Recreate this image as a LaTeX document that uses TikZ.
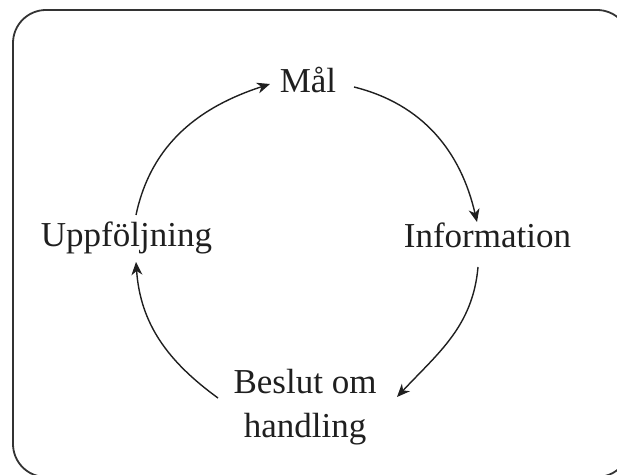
\documentclass[tikz,border=0pt]{standalone}
\usepackage{fontspec}
\setmainfont{Liberation Serif}
\usetikzlibrary{arrows.meta,calc}
\begin{document}
\begin{tikzpicture}[x=1pt,y=1pt,
  lbl/.style={inner sep=0pt, anchor=base, align=center, text=black!88,
    font=\fontsize{35}{44}\selectfont},
  arr/.style={line width=1.4pt, draw=black!88,
    -{Stealth[length=13pt,width=11pt,inset=4pt]}},
  frame/.style={line width=1.8pt, draw=black!80, rounded corners=33pt}]
\useasboundingbox (0,0) rectangle (617,474);
\begin{scope}
\clip (0,0) rectangle (617,474);
\draw[frame] (13,-3) rectangle (630,464);
\end{scope}
\node[lbl] (m) at (308,381) {Mål};
\node[lbl] (i) at (487.5,226) {Information};
\node[lbl] (u) at (126.5,227) {Uppföljning};
\node[lbl] (b) at (305,37) {Beslut om\\handling};
\draw[arr] ($(u.base)+(9.5,32)$) to[out=78,in=198] ($(m.base)+(-38,9)$);
\draw[arr] ($(m.base)+(46,6)$) to[out=-14,in=103] ($(i.base)+(-10.5,26)$);
\draw[arr] ($(i.base)+(-9.5,-19)$) to[out=265,in=47] ($(b.base)+(92,40)$);
\draw[arr] ($(b.base)+(-87,39)$) to[out=144,in=-86] ($(u.base)+(9.5,-15)$);
\end{tikzpicture}
\end{document}
